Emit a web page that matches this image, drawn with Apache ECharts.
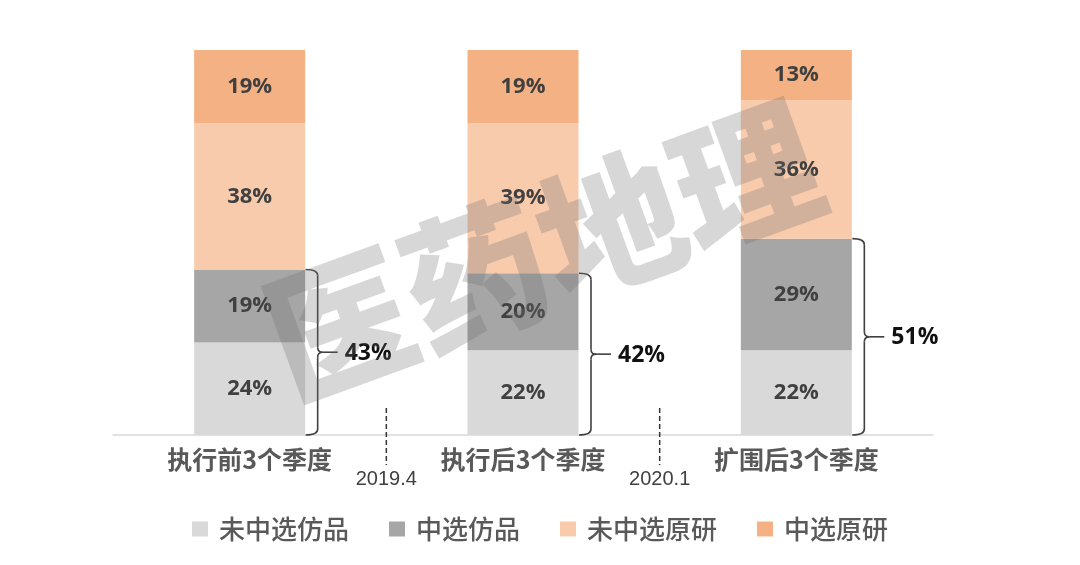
<!DOCTYPE html>
<html>
<head>
<meta charset="utf-8">
<script src="https://cdn.jsdelivr.net/npm/echarts@6/dist/echarts.min.js"></script>
<style>html,body{margin:0;padding:0;background:#fff}#c{width:1080px;height:565px}</style>
</head>
<body>
<div id="c"></div>
<script>
var categories = ['执行前3个季度', '执行后3个季度', '扩围后3个季度'];
var seriesNames = ['未中选仿品', '中选仿品', '未中选原研', '中选原研'];
var genericNotSelected = [24, 22, 22];
var genericSelected = [19, 20, 29];
var originNotSelected = [38, 39, 36];
var originSelected = [19, 19, 13];
var genericTotalLabels = ['43%', '42%', '51%'];
var periodMarks = ['2019.4', '2020.1'];
var watermarkText = '医药地理';

var colors = ['#d9d9d9', '#a6a6a6', '#f8cbad', '#f4b183'];
var FONT = '"Noto Sans CJK SC", "Open Sans", sans-serif';

var chart = echarts.init(document.getElementById('c'), null, {renderer: 'canvas'});

function barSeries(name, data, color) {
  return {
    name: name, type: 'bar', stack: 'all', data: data, barWidth: 111,
    itemStyle: {color: color},
    label: {show: true, position: 'inside', formatter: '{c}%', color: '#404040',
      fontSize: 22, fontWeight: 'bold', fontFamily: '"Open Sans", sans-serif'},
    z: 2
  };
}

var bracketData = categories.map(function (c, i) {
  return [i, 0, genericNotSelected[i] + genericSelected[i], genericTotalLabels[i]];
});
var markData = periodMarks.map(function (m, i) { return [i, 7, m]; });

var option = {
  animation: false,
  backgroundColor: '#fff',
  grid: {left: 113, right: 147, top: 50, bottom: 130},
  xAxis: {
    type: 'category', data: categories,
    axisLine: {show: true, lineStyle: {color: '#d9d9d9', width: 1.5}},
    axisTick: {show: false},
    axisLabel: {color: '#595959', fontSize: 25, fontWeight: 'bold', fontFamily: FONT, margin: 12}
  },
  yAxis: {type: 'value', min: 0, max: 100, show: false, splitLine: {show: false}},
  legend: {
    data: seriesNames, top: 511, left: 'center', itemWidth: 16, itemHeight: 15, itemGap: 40,
    icon: 'rect',
    textStyle: {color: '#595959', fontSize: 26, fontFamily: FONT, fontWeight: 500, padding: [0, 0, 0, 6]}
  },
  graphic: [{
    type: 'text',
    x: 543, y: 250,
    rotation: 20 * Math.PI / 180,
    style: {
      text: watermarkText, x: 0, y: 0, align: 'center', verticalAlign: 'middle',
      fill: 'rgba(110,110,110,0.28)', fontSize: 144, fontWeight: 900,
      fontFamily: FONT
    },
    z: 50
  }],
  series: [
    barSeries(seriesNames[0], genericNotSelected, colors[0]),
    barSeries(seriesNames[1], genericSelected, colors[1]),
    barSeries(seriesNames[2], originNotSelected, colors[2]),
    barSeries(seriesNames[3], originSelected, colors[3]),
    {
      type: 'custom', name: 'bracket', clip: false, z: 3, silent: true,
      data: bracketData,
      renderItem: function (params, api) {
        var pB = api.coord([api.value(0), api.value(1)]);
        var pT = api.coord([api.value(0), api.value(2)]);
        var X = pB[0] + 55 + 13;
        var yT = pT[1], yB = pB[1], yM = (yT + yB) / 2;
        var st = {stroke: '#404040', lineWidth: 1.6, fill: null};
        return {
          type: 'group', children: [
            {type: 'bezierCurve', shape: {x1: X - 12, y1: yT, cpx1: X, cpy1: yT, x2: X, y2: yT + 6}, style: st},
            {type: 'line', shape: {x1: X, y1: yT + 6, x2: X, y2: yM - 5}, style: st},
            {type: 'bezierCurve', shape: {x1: X, y1: yM - 5, cpx1: X, cpy1: yM, x2: X + 5, y2: yM}, style: st},
            {type: 'bezierCurve', shape: {x1: X, y1: yM + 5, cpx1: X, cpy1: yM, x2: X + 5, y2: yM}, style: st},
            {type: 'line', shape: {x1: X + 5, y1: yM, x2: X + 20, y2: yM}, style: st},
            {type: 'line', shape: {x1: X, y1: yM + 5, x2: X, y2: yB - 6}, style: st},
            {type: 'bezierCurve', shape: {x1: X, y1: yB - 6, cpx1: X, cpy1: yB, x2: X - 12, y2: yB}, style: st},
            {type: 'text', style: {text: api.value(3), x: X + 27, y: yM + 1, align: 'left', verticalAlign: 'middle',
              fill: '#111', fontSize: 23, fontWeight: 'bold', fontFamily: '"Open Sans", sans-serif'}}
          ]
        };
      }
    },
    {
      type: 'custom', name: 'period', clip: false, z: 3, silent: true,
      data: markData,
      renderItem: function (params, api) {
        var i = api.value(0);
        var a = api.coord([i, 0]);
        var b = api.coord([i + 1, 0]);
        var top = api.coord([i, api.value(1)]);
        var x = (a[0] + b[0]) / 2;
        var axisY = a[1];
        return {
          type: 'group', children: [
            {type: 'line', shape: {x1: x, y1: top[1], x2: x, y2: axisY + 30},
              style: {stroke: '#333', lineWidth: 1.5, lineDash: [5, 3]}},
            {type: 'text', style: {text: periodMarks[i], x: x, y: axisY + 44, align: 'center', verticalAlign: 'middle',
              fill: '#404040', fontSize: 20, fontFamily: '"Liberation Sans Narrow", "Liberation Sans", sans-serif'}}
          ]
        };
      }
    }
  ]
};
chart.setOption(option);
</script>
</body>
</html>
